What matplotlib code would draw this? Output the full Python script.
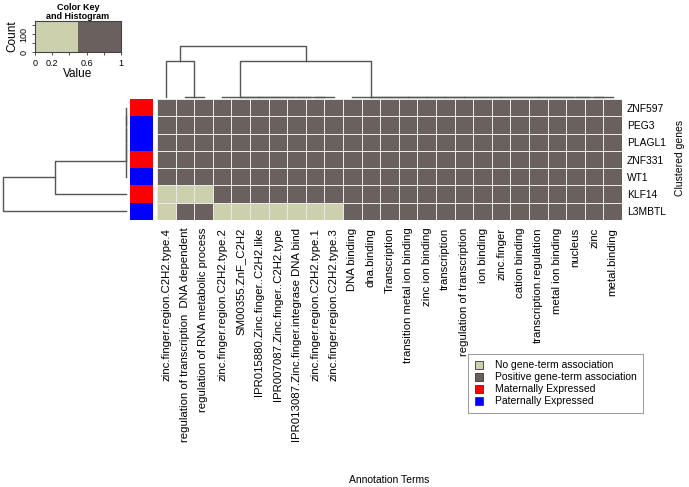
import numpy as np
import matplotlib
matplotlib.use("Agg")
import matplotlib.pyplot as plt
from matplotlib.colors import ListedColormap
from matplotlib.lines import Line2D

plt.rcParams['font.family'] = ['Liberation Sans', 'DejaVu Sans']

# ---- data ----
genes = ["ZNF597", "PEG3", "PLAGL1", "ZNF331", "WT1", "KLF14", "L3MBTL"]
expression = ["Maternally", "Paternally", "Paternally", "Maternally",
              "Paternally", "Maternally", "Paternally"]
terms = ["zinc.finger.region.C2H2.type.4",
         "regulation of transcription  DNA dependent",
         "regulation of RNA metabolic process",
         "zinc.finger.region.C2H2.type.2",
         "SM00355.ZnF_C2H2",
         "IPR015880.Zinc.finger..C2H2.like",
         "IPR007087.Zinc.finger..C2H2.type",
         "IPR013087.Zinc.finger.integrase DNA bind",
         "zinc.finger.region.C2H2.type.1",
         "zinc.finger.region.C2H2.type.3",
         "DNA binding", "dna.binding", "Transcription",
         "transition metal ion binding", "zinc ion binding", "transcription",
         "regulation of transcription", "ion binding", "zinc.finger",
         "cation binding", "transcription.regulation", "metal ion binding",
         "nucleus", "zinc", "metal.binding"]
# 1 = positive gene-term association, 0 = none
assoc = [
    [1] * 25,
    [1] * 25,
    [1] * 25,
    [1] * 25,
    [1] * 25,
    [0, 0, 0] + [1] * 22,
    [0, 1, 1, 0, 0, 0, 0, 0, 0, 0] + [1] * 15,
]
key_ticks = [0, 0.2, 0.4, 0.6, 0.8, 1]
key_labels = ["0", "0.2", "", "0.6", "", "1"]
count_ticks = [0, 50, 100, 150]
count_labels = ["0", "", "100", ""]

M = np.array(assoc, dtype=float)
nr, nc = M.shape

light = '#CDD0AC'
dark = '#6A605D'
red = '#FF0000'
blue = '#0000FF'
lcol = '#555555'


def nest_right(idx):
    t = idx[-1]
    for i in reversed(idx[:-1]):
        t = (i, t)
    return t


def nest_left(idx):
    t = idx[0]
    for i in idx[1:]:
        t = (t, i)
    return t


def leaves(t):
    if isinstance(t, tuple):
        return leaves(t[0]) + leaves(t[1])
    return [t]


def complete_height(t, vecs):
    a, b = leaves(t[0]), leaves(t[1])
    return max(np.linalg.norm(vecs[i] - vecs[j]) for i in a for j in b)


def draw_tree(ax, t, vecs, vertical):
    # returns (position, height)
    if not isinstance(t, tuple):
        return t + 0.5, 0.0
    p1, h1 = draw_tree(ax, t[0], vecs, vertical)
    p2, h2 = draw_tree(ax, t[1], vecs, vertical)
    h = complete_height(t, vecs)
    ps = [p1, p1, p2, p2]
    hs = [h1, h, h, h2]
    if vertical:
        ax.plot(ps, hs, color=lcol, lw=1, clip_on=False)
    else:
        ax.plot(hs, ps, color=lcol, lw=1, clip_on=False)
    return (p1 + p2) / 2, h


row_tree = ((nest_left([0, 1, 2, 3, 4]), 5), 6)
col_tree = ((0, (1, 2)), (nest_right(list(range(3, 10))),
                          nest_right(list(range(10, 25)))))

W, H = 689, 487
fig = plt.figure(figsize=(W / 100, H / 100), dpi=100)


def px_axes(x0, y0, x1, y1):
    return fig.add_axes([x0 / W, 1 - y1 / H, (x1 - x0) / W, (y1 - y0) / H])


# heatmap
hx0, hx1, hy0, hy1 = 157, 622, 99, 220
ax = px_axes(hx0, hy0, hx1, hy1)
ax.pcolormesh(np.arange(nc + 1), np.arange(nr + 1), M,
              cmap=ListedColormap([light, dark]), vmin=0, vmax=1,
              edgecolors='#E8E8E8', linewidth=0.45)
ax.set_xlim(0, nc)
ax.set_ylim(nr, 0)
for s in ax.spines.values():
    s.set_visible(False)
ax.set_xticks(np.arange(nc) + 0.5)
ax.set_xticklabels(terms, rotation=90, fontsize=8.2)
ax.set_yticks(np.arange(nr) + 0.5)
ax.set_yticklabels(genes, fontsize=7.4)
ax.tick_params(axis='x', length=0, pad=5.5)
ax.tick_params(axis='y', length=0, pad=3.5, left=False, labelleft=False,
               right=True, labelright=True)

# side colour bar
sax = px_axes(130, hy0, 153, hy1)
side = np.array([[0 if e == "Maternally" else 1] for e in expression])
sax.pcolormesh([0, 1], np.arange(nr + 1), side,
               cmap=ListedColormap([red, blue]), vmin=0, vmax=1)
sax.set_ylim(nr, 0)
sax.set_xlim(0, 1)
sax.axis('off')

# column dendrogram
cax = px_axes(hx0, 45.7, hx1, 97.3)
cax.set_xlim(0, nc)
cax.set_ylim(0, complete_height(col_tree, M.T))
draw_tree(cax, col_tree, M.T, vertical=True)
cax.axis('off')

# row dendrogram
rax = px_axes(3, hy0, 125.5, hy1)
rax.set_ylim(nr, 0)
rax.set_xlim(complete_height(row_tree, M), 0)
draw_tree(rax, row_tree, M, vertical=False)
rax.axis('off')

# colour key
kax = px_axes(35, 20.7, 121, 52.3)
kax.imshow([[0, 1]], cmap=ListedColormap([light, dark]), aspect='auto',
           extent=[0, 1, 0, 175.6])
kax.set_xlim(0, 1)
kax.set_ylim(0, 175.6)
kax.set_xticks(key_ticks)
kax.set_xticklabels(key_labels, fontsize=6.5)
kax.set_yticks(count_ticks)
kax.set_yticklabels(count_labels, fontsize=6.5, rotation=90, va='center')
kax.tick_params(length=2.5, width=0.6, pad=2, color='#333333')
for s in kax.spines.values():
    s.set_linewidth(0.8)
    s.set_color('#444444')
kax.set_xlabel("Value", fontsize=8.5, labelpad=0)
kax.set_ylabel("Count", fontsize=8.5, labelpad=1)
kax.set_title("Color Key\nand Histogram", fontsize=6.5, fontweight='bold',
              linespacing=0.95, pad=1)

# axis titles
fig.text(680 / W, 1 - 158 / H, "Clustered genes", rotation=90,
         ha='center', va='center', fontsize=7.5)
fig.text(389 / W, 1 - 480 / H, "Annotation Terms", ha='center',
         va='center', fontsize=7.5)

# legend
legend_names = ["No gene-term association", "Positive gene-term association",
                "Maternally Expressed", "Paternally Expressed"]
legend_cols = [light, dark, red, blue]
handles = [Line2D([], [], marker='s', linestyle='none', markersize=6,
                  markerfacecolor=c, markeredgecolor='#333333',
                  markeredgewidth=0.6) for c in legend_cols]
leg = fig.legend(handles, legend_names, loc='upper left',
                 bbox_to_anchor=(468 / W, 1 - 354 / H), borderaxespad=0,
                 fontsize=7.5, frameon=True, fancybox=False,
                 edgecolor='#888888', labelspacing=0.2, handlelength=1.0,
                 handletextpad=1.0, borderpad=0.6)
leg.get_frame().set_linewidth(0.8)

fig.savefig("out.png", dpi=100)
